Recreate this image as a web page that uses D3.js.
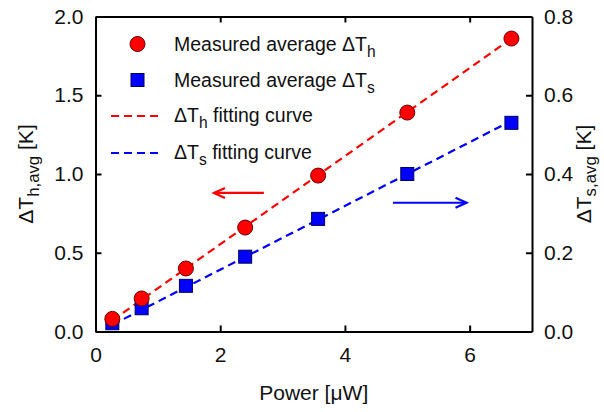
<!DOCTYPE html>
<html><head><meta charset="utf-8">
<script src="https://cdn.jsdelivr.net/npm/d3@7"></script>
<style>
html,body{margin:0;padding:0;background:#fff;}
svg{display:block;font-family:"Liberation Sans",Arial,sans-serif;}
</style></head>
<body>
<svg id="chart" width="604" height="412"></svg>
<script>
// ---- data ----
const power = [0.27, 0.74, 1.45, 2.40, 3.57, 5.00, 6.67];
const dTh   = [0.08, 0.21, 0.40, 0.66, 0.99, 1.39, 1.86];
const dTs   = [0.021, 0.059, 0.116, 0.190, 0.286, 0.400, 0.530];
const fitPower = [0.27, 6.67];
const fitH  = [0.07, 1.86];
const fitS  = [0.017, 0.535];
const xTicks = [0, 2, 4, 6];
const yLTicks = [0.0, 0.5, 1.0, 1.5, 2.0];
const yRTicks = [0.0, 0.2, 0.4, 0.6, 0.8];
const arrowH = {x: [2.70, 1.90], y: 0.88};   // points to left axis
const arrowS = {x: [4.77, 5.95], y: 0.327};  // points to right axis

const svg = d3.select("#chart");
const L = 95.5, R = 532, T = 16.5, B = 331.5;
const x = d3.scaleLinear().domain([0, 7]).range([L, R]);
const yL = d3.scaleLinear().domain([0, 2]).range([B, T]);
const yR = d3.scaleLinear().domain([0, 0.8]).range([B, T]);

const red = "#ff0000", blue = "#0000ff";
const fs = 21;

// axes
function styleAxis(g){
  g.selectAll("path.domain").attr("stroke","#000").attr("stroke-width",2);
  g.selectAll(".tick line").attr("stroke","#000").attr("stroke-width",2);
  g.selectAll("text").attr("font-size",fs).attr("fill","#111").attr("font-family","Liberation Sans, Arial, sans-serif");
}
svg.append("g").attr("transform",`translate(0,${B})`)
  .call(d3.axisBottom(x).tickValues(xTicks).tickFormat(d3.format("d")).tickSizeInner(-6).tickSizeOuter(0).tickPadding(16))
  .call(styleAxis);
svg.append("g").attr("transform",`translate(0,${T})`)
  .call(d3.axisTop(x).tickValues(xTicks.filter(d=>d>0)).tickFormat("").tickSizeInner(-6).tickSizeOuter(0))
  .call(styleAxis);
svg.append("g").attr("transform",`translate(${L},0)`)
  .call(d3.axisLeft(yL).tickValues(yLTicks).tickFormat(d3.format(".1f")).tickSizeInner(-6).tickSizeOuter(0).tickPadding(12))
  .call(styleAxis);
svg.append("g").attr("transform",`translate(${R},0)`)
  .call(d3.axisRight(yR).tickValues(yRTicks).tickFormat(d3.format(".1f")).tickSizeInner(-6).tickSizeOuter(0).tickPadding(12))
  .call(styleAxis);

// fit lines
const lineL = d3.line().x(d=>x(d[0])).y(d=>yL(d[1]));
const lineR = d3.line().x(d=>x(d[0])).y(d=>yR(d[1]));
svg.append("path").datum(d3.zip(fitPower, fitH)).attr("d", lineL)
  .attr("fill","none").attr("stroke",red).attr("stroke-width",2.2).attr("stroke-dasharray","8,5");
svg.append("path").datum(d3.zip(fitPower, fitS)).attr("d", lineR)
  .attr("fill","none").attr("stroke",blue).attr("stroke-width",2.2).attr("stroke-dasharray","8,5");

// markers
svg.append("g").selectAll("rect").data(d3.zip(power, dTs)).join("rect")
  .attr("x", d=>x(d[0])-6.5).attr("y", d=>yR(d[1])-6.5).attr("width",13).attr("height",13)
  .attr("fill",blue).attr("stroke","#00005a").attr("stroke-width",1);
svg.append("g").selectAll("circle").data(d3.zip(power, dTh)).join("circle")
  .attr("cx", d=>x(d[0])).attr("cy", d=>yL(d[1])).attr("r",7.5)
  .attr("fill",red).attr("stroke","#6a0000").attr("stroke-width",1);

// arrows
function arrow(x1, x2, yy, color){
  const dir = Math.sign(x2 - x1);
  const g = svg.append("g").attr("stroke",color).attr("stroke-width",2.2).attr("fill","none");
  g.append("line").attr("x1",x1).attr("x2",x2).attr("y1",yy).attr("y2",yy);
  g.append("path").attr("d",`M${x2-dir*11},${yy-5}L${x2},${yy}L${x2-dir*11},${yy+5}`);
}
arrow(x(arrowH.x[0]), x(arrowH.x[1]), yL(arrowH.y), red);
arrow(x(arrowS.x[0]), x(arrowS.x[1]), yR(arrowS.y), blue);

// legend
const lfs = 19.5;
const leg = svg.append("g").attr("font-size",lfs).attr("fill","#111");
const lx = 174;
leg.append("circle").attr("cx",137.5).attr("cy",44).attr("r",7.5).attr("fill",red).attr("stroke","#6a0000");
leg.append("rect").attr("x",131).attr("y",73.5).attr("width",13).attr("height",13).attr("fill",blue).attr("stroke","#00005a");
leg.append("line").attr("x1",111).attr("x2",161).attr("y1",116).attr("y2",116).attr("stroke",red).attr("stroke-width",2.2).attr("stroke-dasharray","8,5");
leg.append("line").attr("x1",111).attr("x2",161).attr("y1",153).attr("y2",153).attr("stroke",blue).attr("stroke-width",2.2).attr("stroke-dasharray","8,5");
function subText(sel, xx, yy, pre, sub, post){
  const t = sel.append("text").attr("x",xx).attr("y",yy);
  t.append("tspan").text(pre);
  t.append("tspan").attr("dy",6).attr("font-size",lfs*0.8).text(sub);
  if (post) t.append("tspan").attr("dy",-6).text(post);
  return t;
}
subText(leg, lx, 50.5, "Measured average \u0394T", "h");
subText(leg, lx, 86.5, "Measured average \u0394T", "s");
subText(leg, lx, 122, "\u0394T", "h", " fitting curve");
subText(leg, lx, 159, "\u0394T", "s", " fitting curve");

// axis titles
svg.append("text").attr("x", (L+R)/2).attr("y", 400).attr("text-anchor","middle")
  .attr("font-size",fs).attr("fill","#111").text("Power [\u03bcW]");
function yTitle(xx, sub, subDy){
  const t = svg.append("text").attr("transform",`translate(${xx},${(T+B)/2}) rotate(-90)`)
    .attr("text-anchor","middle").attr("font-size",fs).attr("fill","#111");
  t.append("tspan").text("\u0394T");
  t.append("tspan").attr("dy",subDy).attr("font-size",fs*0.8).text(sub);
  t.append("tspan").attr("dy",-subDy).text(" [K]");
}
yTitle(33, "h,avg", 6);
yTitle(591, "s,avg", 5);
</script>
</body></html>
